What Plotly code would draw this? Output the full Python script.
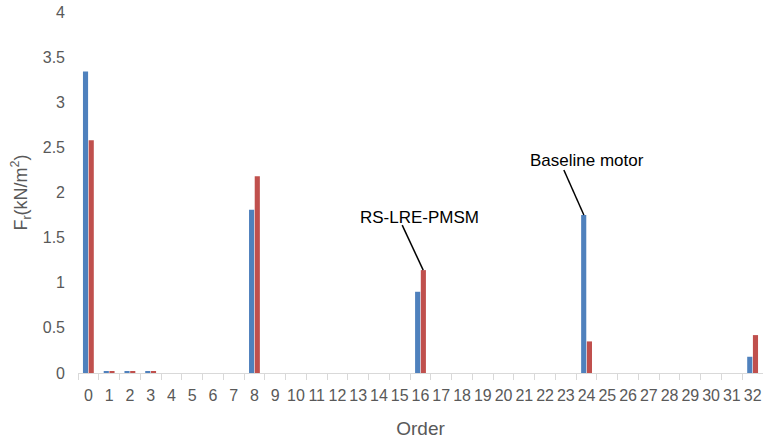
import plotly.graph_objects as go

orders = [str(i) for i in range(33)]
baseline = [0.0] * 33
rslre = [0.0] * 33
baseline_vals = {0: 3.34, 1: 0.02, 2: 0.02, 3: 0.02, 8: 1.81, 16: 0.90, 24: 1.75, 32: 0.18}
rslre_vals = {0: 2.58, 1: 0.02, 2: 0.02, 3: 0.02, 8: 2.18, 16: 1.14, 24: 0.35, 32: 0.42}
for k, v in baseline_vals.items():
    baseline[k] = v
for k, v in rslre_vals.items():
    rslre[k] = v

blue = "#4F81BD"
red = "#C0504D"
gray = "#595959"
font = "Liberation Sans"

fig = go.Figure()
fig.add_trace(go.Bar(x=orders, y=baseline, name="Baseline motor", marker_color=blue, marker_line_width=0))
fig.add_trace(go.Bar(x=orders, y=rslre, name="RS-LRE-PMSM", marker_color=red, marker_line_width=0))

fig.update_layout(
    width=763, height=446,
    margin=dict(l=78, r=0, t=12, b=73),
    paper_bgcolor="white", plot_bgcolor="white",
    barmode="group", bargap=0.45, bargroupgap=0.1,
    showlegend=False,
    font=dict(family=font, size=16, color=gray),
)
fig.update_xaxes(
    type="category", tickson="boundaries", ticks="outside", ticklen=6,
    tickcolor="#D9D9D9", showline=True, linecolor="#D9D9D9", linewidth=1,
    showgrid=False, tickangle=0, ticklabelstandoff=8,
    title=dict(text="Order", font=dict(size=19, color=gray), standoff=18),
    tickfont=dict(size=16, color=gray),
)
fig.update_yaxes(
    range=[0, 4], dtick=0.5, showgrid=False, zeroline=False, showline=False,
    tickfont=dict(size=16, color=gray), ticks="", ticklabelstandoff=12,
    title=dict(text="F<sub>r</sub>(kN/m<sup>2</sup>)", font=dict(size=18, color=gray), standoff=10),
)

# Leader lines
fig.add_shape(type="line", xref="x", yref="y", xsizemode="pixel", ysizemode="pixel",
              xanchor=16.13, yanchor=1.14, x0=-21, y0=45, x1=0, y1=0,
              line=dict(color="black", width=1.5))
fig.add_shape(type="line", xref="x", yref="y", xsizemode="pixel", ysizemode="pixel",
              xanchor=23.87, yanchor=1.75, x0=-20, y0=45, x1=0, y1=0,
              line=dict(color="black", width=1.5))
# Labels
fig.add_annotation(x=16.13, y=1.14, xref="x", yref="y", text="RS-LRE-PMSM", showarrow=False,
                   xshift=-4, yshift=53, font=dict(family=font, size=17, color="black"))
fig.add_annotation(x=23.87, y=1.75, xref="x", yref="y", text="Baseline motor", showarrow=False,
                   xshift=3, yshift=55, font=dict(family=font, size=17, color="black"))

fig.write_html("out.html")
